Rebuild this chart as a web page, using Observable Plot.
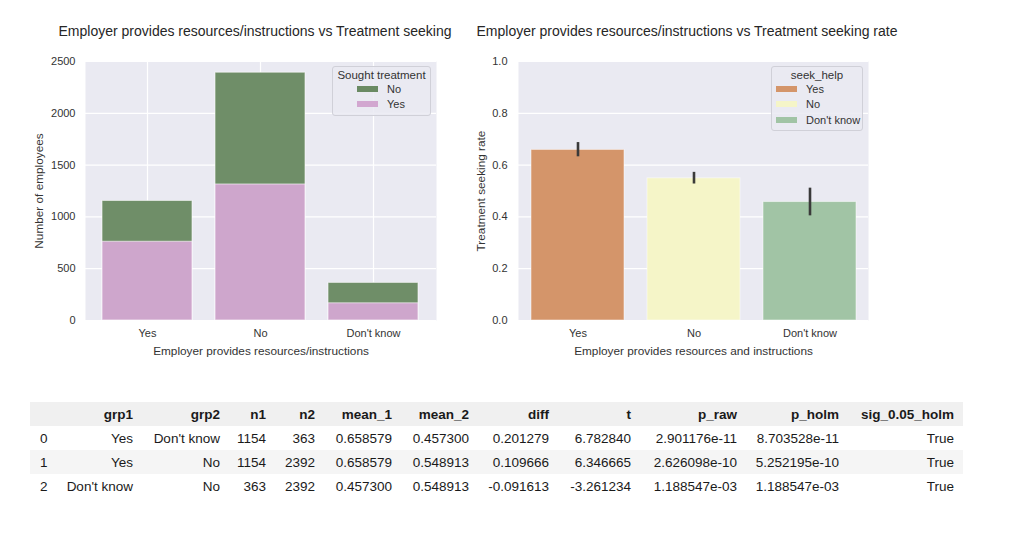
<!DOCTYPE html>
<html>
<head>
<meta charset="utf-8">
<script src="https://cdn.jsdelivr.net/npm/d3@7"></script>
<script src="https://cdn.jsdelivr.net/npm/@observablehq/plot@0.6"></script>
<style>
  html, body { margin: 0; padding: 0; background: #fff; }
  body { width: 1024px; height: 535px; position: relative; overflow: hidden; font-family: "Liberation Sans", Arial, sans-serif; color: #262626; }
  .abs { position: absolute; }
  .title { font-size: 14px; white-space: nowrap; transform: translateX(-50%); color: #262626; }
  .legend { border: 1px solid #d0d0d8; border-radius: 3px; background: rgba(234,234,242,0.85); font-size: 11px; box-sizing: border-box; color: #333; }
  .legend .lt { text-align: center; margin-top: 2px; font-size: 11.5px; }
  .legend .row { display: flex; align-items: center; height: 15.5px; }
  .legend .sw { width: 21px; height: 6px; margin-right: 9px; }
  table { border-collapse: collapse; table-layout: fixed; font-size: 13.5px; color: #1a1a1a; }
  td, th { height: 24px; padding: 0 9px 0 0; text-align: right; white-space: nowrap; box-sizing: border-box; }
  th { font-weight: bold; background: #f0f0f0; }
  td.idx, th.idx { text-align: left; padding: 0 0 0 10px; }
  tr.odd td { background: #f5f5f5; }
</style>
</head>
<body>
<script>
// ---------- data ----------
const categories = ["Yes", "No", "Don't know"];
const totalEmployees = [1154, 2392, 363];
const soughtTreatment = [760, 1313, 166];
const seekRate = [0.6586, 0.5489, 0.4573];
const ciLow = [0.632, 0.527, 0.404];
const ciHigh = [0.687, 0.572, 0.511];
const yTicksLeft = [0, 500, 1000, 1500, 2000, 2500];
const yTicksRight = [0, 0.2, 0.4, 0.6, 0.8, 1.0];

const stackColors = {No: "#6a8a63", Yes: "#d2a7d0"};
const rateColors = ["#d4956a", "#f5f5c8", "#a1c4a5"];

const tableColumns = ["", "grp1", "grp2", "n1", "n2", "mean_1", "mean_2", "diff", "t", "p_raw", "p_holm", "sig_0.05_holm"];
const tableIndex = ["0", "1", "2"];
const colGrp1 = ["Yes", "Yes", "Don't know"];
const colGrp2 = ["Don't know", "No", "No"];
const colN1 = ["1154", "1154", "363"];
const colN2 = ["363", "2392", "2392"];
const colMean1 = ["0.658579", "0.658579", "0.457300"];
const colMean2 = ["0.457300", "0.548913", "0.548913"];
const colDiff = ["0.201279", "0.109666", "-0.091613"];
const colT = ["6.782840", "6.346665", "-3.261234"];
const colPraw = ["2.901176e-11", "2.626098e-10", "1.188547e-03"];
const colPholm = ["8.703528e-11", "5.252195e-10", "1.188547e-03"];
const colSig = ["True", "True", "True"];
const colWidths = [27, 85, 87, 46, 49, 77, 77, 80, 82, 106, 102, 115];

// ---------- helpers ----------
function place(el, left, top) {
  el.classList.add("abs");
  el.style.left = left + "px";
  el.style.top = top + "px";
  document.body.appendChild(el);
  return el;
}
function div(cls, text) {
  const d = document.createElement("div");
  if (cls) d.className = cls;
  if (text != null) d.textContent = text;
  return d;
}
const font = "'Liberation Sans', Arial, sans-serif";
const tickFS = 11;
const labelFS = 11.8;

// ---------- left chart ----------
const stackData = categories.map((c, i) => ({cat: c, total: totalEmployees[i], yes: soughtTreatment[i]}));
const left = Plot.plot({
  width: 460, height: 320,
  marginTop: 16, marginBottom: 45, marginLeft: 85, marginRight: 24,
  style: {fontFamily: font, fontSize: "11px", color: "#333", background: "transparent", overflow: "visible"},
  x: {domain: categories, paddingInner: 0.2, paddingOuter: 0.14},
  y: {domain: [0, 2500]},
  marks: [
    Plot.frame({fill: "#eaeaf2", stroke: null}),
    Plot.gridY(yTicksLeft, {stroke: "white", strokeOpacity: 1, strokeWidth: 1.2}),
    Plot.gridX(categories, {stroke: "white", strokeOpacity: 1, strokeWidth: 1.2}),
    Plot.barY(stackData, {x: "cat", y1: 0, y2: "total", fill: stackColors.No, fillOpacity: 0.97, stroke: "white", strokeOpacity: 0.6, strokeWidth: 1}),
    Plot.barY(stackData, {x: "cat", y1: 0, y2: "yes", fill: stackColors.Yes, fillOpacity: 0.97, stroke: "white", strokeOpacity: 0.6, strokeWidth: 1}),
    Plot.axisX({tickSize: 0, tickPadding: 9, fontSize: tickFS, label: null}),
    Plot.axisX({ticks: [], tickSize: 0, fontSize: labelFS, label: "Employer provides resources/instructions", labelAnchor: "center", labelOffset: 34}),
    Plot.axisY(yTicksLeft, {tickSize: 0, tickPadding: 10, fontSize: tickFS, tickFormat: d3.format("d"), label: null}),
    Plot.axisY({ticks: [], tickSize: 0, fontSize: labelFS, label: "Number of employees", labelAnchor: "center", labelOffset: 51, labelArrow: "none"})
  ]
});
place(left, 0, 45);

// ---------- right chart ----------
const rateData = categories.map((c, i) => ({cat: c, rate: seekRate[i], lo: ciLow[i], hi: ciHigh[i]}));
const right = Plot.plot({
  width: 460, height: 320,
  marginTop: 16, marginBottom: 45, marginLeft: 58, marginRight: 52,
  style: {fontFamily: font, fontSize: "11px", color: "#333", background: "transparent", overflow: "visible"},
  x: {domain: categories, paddingInner: 0.2, paddingOuter: 0.1},
  y: {domain: [0, 1]},
  color: {domain: categories, range: rateColors},
  marks: [
    Plot.frame({fill: "#eaeaf2", stroke: null}),
    Plot.gridY(yTicksRight, {stroke: "white", strokeOpacity: 1, strokeWidth: 1.2}),
    Plot.barY(rateData, {x: "cat", y1: 0, y2: "rate", fill: "cat", stroke: "white", strokeOpacity: 0.5, strokeWidth: 1}),
    Plot.ruleX(rateData, {x: "cat", y1: "lo", y2: "hi", stroke: "#3a3a3a", strokeWidth: 2.6}),
    Plot.axisX({tickSize: 0, tickPadding: 9, fontSize: tickFS, label: null}),
    Plot.axisX({ticks: [], tickSize: 0, fontSize: labelFS, label: "Employer provides resources and instructions", labelAnchor: "center", labelOffset: 34}),
    Plot.axisY(yTicksRight, {tickSize: 0, tickPadding: 11, fontSize: tickFS, tickFormat: d3.format(".1f"), label: null}),
    Plot.axisY({ticks: [], tickSize: 0, fontSize: labelFS, label: "Treatment seeking rate", labelAnchor: "center", labelOffset: 42, labelArrow: "none"})
  ]
});
place(right, 460, 45);

// ---------- titles ----------
place(div("title", "Employer provides resources/instructions vs Treatment seeking"), 255, 23);
place(div("title", "Employer provides resources/instructions vs Treatment seeking rate"), 687, 23);

// ---------- legends ----------
function legend(title, labels, colors, x, y, w, h, padLeft) {
  const box = div("legend");
  box.style.width = w + "px";
  box.style.height = h + "px";
  box.appendChild(div("lt", title));
  labels.forEach((lab, i) => {
    const r = div("row");
    r.style.paddingLeft = padLeft + "px";
    const sw = div("sw");
    sw.style.background = colors[i];
    r.appendChild(sw);
    r.appendChild(div(null, lab));
    box.appendChild(r);
  });
  place(box, x, y);
}
legend("Sought treatment", ["No", "Yes"], [stackColors.No, stackColors.Yes], 332, 66, 99, 50, 24);
legend("seek_help", categories, rateColors, 771, 66, 92, 65, 4);

// ---------- table ----------
const table = document.createElement("table");
table.style.width = d3.sum(colWidths) + "px";
const cg = document.createElement("colgroup");
colWidths.forEach(w => { const c = document.createElement("col"); c.style.width = w + "px"; cg.appendChild(c); });
table.appendChild(cg);
const hr = document.createElement("tr");
tableColumns.forEach((c, j) => { const th = document.createElement("th"); th.textContent = c; if (j === 0) th.className = "idx"; hr.appendChild(th); });
table.appendChild(hr);
const cols = [tableIndex, colGrp1, colGrp2, colN1, colN2, colMean1, colMean2, colDiff, colT, colPraw, colPholm, colSig];
tableIndex.forEach((_, i) => {
  const tr = document.createElement("tr");
  if (i % 2 === 1) tr.className = "odd";
  cols.forEach((col, j) => { const td = document.createElement("td"); td.textContent = col[i]; if (j === 0) td.className = "idx"; tr.appendChild(td); });
  table.appendChild(tr);
});
place(table, 30, 402);
</script>
</body>
</html>
